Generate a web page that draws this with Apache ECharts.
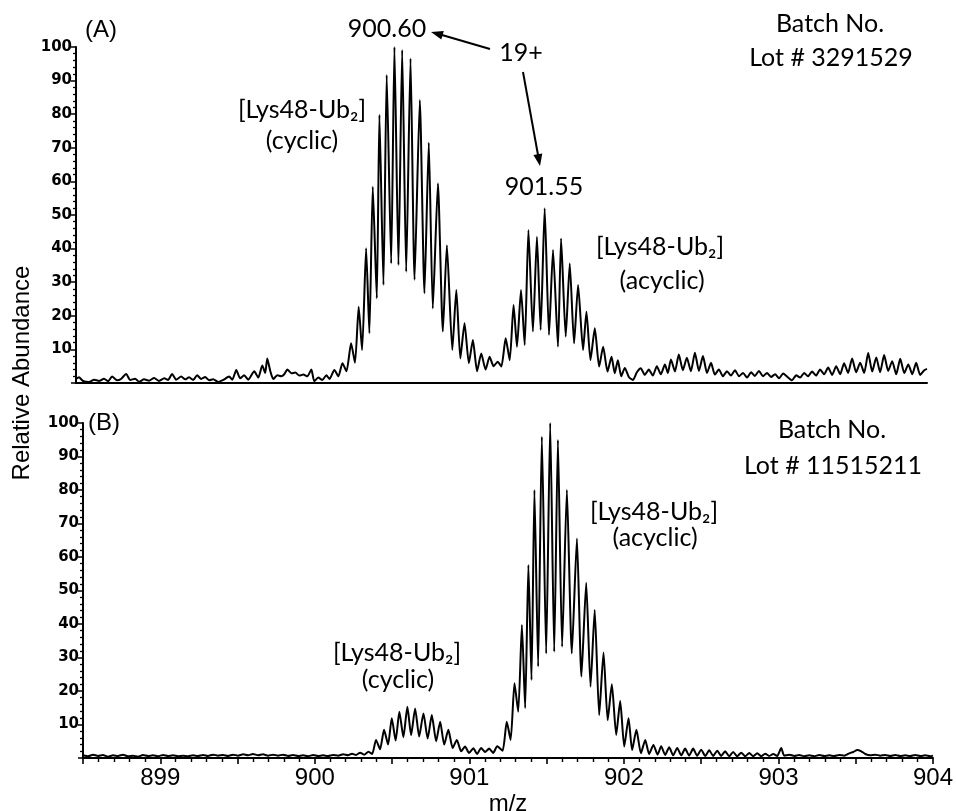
<!DOCTYPE html>
<html>
<head>
<meta charset="utf-8">
<title>Lys48-Ub2 19+ spectra</title>
<script src="https://cdn.jsdelivr.net/npm/echarts@6/dist/echarts.min.js"></script>
<style>
  html, body { margin: 0; padding: 0; background: #fff; }
  #chart { width: 956px; height: 811px; }
</style>
</head>
<body>
<div id="chart"></div>
<script>
// Panel (A): Batch Lot # 3291529 — profile trace, m/z and relative abundance
const mzA = [
  898.500, 898.519, 898.545, 898.584, 898.617, 898.649, 898.681, 898.707, 898.733, 898.765,
  898.791, 898.824, 898.850, 898.882, 898.908, 898.940, 898.972, 899.005, 899.037, 899.070,
  899.095, 899.121, 899.147, 899.180, 899.206, 899.231, 899.257, 899.283, 899.309, 899.335,
  899.361, 899.387, 899.419, 899.451, 899.490, 899.510, 899.536, 899.561, 899.587, 899.613,
  899.652, 899.678, 899.704, 899.723, 899.736, 899.756, 899.775, 899.801, 899.827, 899.846,
  899.866, 899.892, 899.918, 899.943, 899.969, 899.995, 900.021, 900.040, 900.066, 900.092,
  900.118, 900.138, 900.170, 900.196, 900.222, 900.248, 900.278, 900.303, 900.327, 900.349,
  900.375, 900.396, 900.418, 900.444, 900.461, 900.487, 900.508, 900.537, 900.558, 900.584,
  900.608, 900.634, 900.662, 900.688, 900.722, 900.752, 900.780, 900.806, 900.839, 900.871,
  900.897, 900.932, 900.958, 900.984, 901.011, 901.039, 901.065, 901.092, 901.119, 901.147,
  901.173, 901.199, 901.225, 901.249, 901.277, 901.303, 901.328, 901.350, 901.376, 901.400,
  901.424, 901.453, 901.479, 901.503, 901.529, 901.557, 901.583, 901.615, 901.635, 901.665,
  901.691, 901.719, 901.745, 901.777, 901.799, 901.825, 901.853, 901.881, 901.907, 901.935,
  901.961, 901.982, 902.002, 902.024, 902.047, 902.073, 902.099, 902.125, 902.150, 902.176,
  902.202, 902.228, 902.254, 902.280, 902.306, 902.325, 902.345, 902.371, 902.396, 902.422,
  902.448, 902.474, 902.500, 902.526, 902.552, 902.578, 902.604, 902.629, 902.655, 902.681,
  902.707, 902.733, 902.759, 902.785, 902.811, 902.837, 902.863, 902.888, 902.914, 902.940,
  902.966, 902.992, 903.018, 903.044, 903.070, 903.096, 903.128, 903.154, 903.180, 903.206,
  903.231, 903.257, 903.283, 903.309, 903.335, 903.361, 903.387, 903.413, 903.439, 903.464,
  903.490, 903.516, 903.542, 903.568, 903.594, 903.620, 903.646, 903.672, 903.697, 903.723,
  903.749, 903.775, 903.801, 903.827, 903.853, 903.879, 903.905, 903.930, 903.956, 903.982,
  904.000
];
const intA = [
  1.2, 1.7, 0.6, 0.3, 1.0, 0.6, 1.3, 0.5, 1.9, 0.8,
  1.2, 2.7, 0.9, 1.3, 0.4, 1.1, 0.7, 1.5, 0.6, 1.4,
  0.9, 2.7, 1.0, 1.9, 1.1, 1.7, 0.9, 2.3, 1.2, 1.8,
  0.8, 1.1, 0.3, 0.9, 1.9, 1.0, 3.9, 1.4, 2.3, 1.0,
  3.5, 1.6, 5.2, 3.0, 7.3, 3.5, 1.2, 2.3, 2.0, 2.6,
  4.0, 2.9, 3.1, 2.2, 2.5, 2.0, 4.0, 0.5, 1.6, 0.9,
  2.3, 1.2, 3.9, 2.0, 5.9, 3.5, 11.8, 6.0, 22.7, 9.8,
  40.1, 14.8, 58.4, 25.2, 79.8, 29.2, 91.7, 35.6, 100, 35.1,
  99.1, 33.1, 96.6, 30.7, 84.2, 26.7, 71.5, 22.2, 59.4, 15.3,
  41.0, 9.8, 27.7, 7.3, 17.8, 5.9, 12.8, 3.5, 8.8, 4.0,
  7.8, 5.0, 6.3, 4.9, 13.3, 6.8, 23.2, 10.8, 27.7, 11.3,
  45.5, 15.3, 43.5, 15.8, 52.0, 14.3, 39.6, 10.8, 43.0, 13.8,
  35.6, 11.8, 29.2, 9.8, 21.2, 6.8, 16.3, 4.9, 10.8, 3.4,
  7.8, 2.9, 6.8, 2.0, 4.5, 1.8, 0.9, 3.2, 4.4, 2.4,
  4.0, 2.2, 5.0, 2.6, 5.5, 3.0, 7.0, 3.4, 8.5, 3.8,
  7.5, 3.5, 9.0, 3.6, 8.0, 3.0, 6.0, 2.5, 4.0, 2.0,
  3.5, 2.2, 3.8, 2.0, 3.0, 1.6, 3.2, 2.1, 3.6, 2.0,
  3.0, 1.8, 2.6, 1.4, 2.8, 1.9, 0.8, 2.3, 1.6, 3.0,
  2.0, 3.4, 2.2, 4.0, 2.6, 4.6, 2.4, 5.0, 2.6, 5.9,
  3.0, 7.3, 3.2, 6.0, 3.0, 8.9, 3.4, 7.6, 3.2, 8.3,
  3.6, 6.5, 2.6, 7.2, 3.0, 5.5, 2.6, 6.0, 2.4, 3.8,
  4.2
];

// Panel (B): Batch Lot # 11515211
const mzB = [
  898.500, 898.532, 898.565, 898.597, 898.629, 898.662, 898.694, 898.727, 898.759, 898.791,
  898.824, 898.856, 898.888, 898.921, 898.953, 898.985, 899.018, 899.050, 899.083, 899.115,
  899.147, 899.180, 899.212, 899.244, 899.277, 899.309, 899.341, 899.374, 899.406, 899.439,
  899.471, 899.503, 899.536, 899.568, 899.600, 899.633, 899.665, 899.697, 899.730, 899.762,
  899.795, 899.827, 899.859, 899.892, 899.924, 899.956, 899.989, 900.021, 900.053, 900.086,
  900.118, 900.151, 900.183, 900.215, 900.241, 900.267, 900.293, 900.319, 900.347, 900.371,
  900.396, 900.422, 900.448, 900.474, 900.498, 900.523, 900.547, 900.573, 900.599, 900.623,
  900.649, 900.675, 900.703, 900.730, 900.757, 900.785, 900.811, 900.837, 900.864, 900.892,
  900.919, 900.947, 900.972, 900.998, 901.026, 901.050, 901.076, 901.102, 901.128, 901.154,
  901.180, 901.215, 901.242, 901.267, 901.292, 901.316, 901.340, 901.361, 901.382, 901.402,
  901.421, 901.445, 901.469, 901.497, 901.523, 901.549, 901.573, 901.600, 901.631, 901.663,
  901.696, 901.725, 901.756, 901.784, 901.811, 901.840, 901.868, 901.895, 901.922, 901.950,
  901.976, 902.002, 902.030, 902.053, 902.081, 902.110, 902.138, 902.163, 902.191, 902.218,
  902.241, 902.267, 902.293, 902.319, 902.345, 902.371, 902.396, 902.422, 902.448, 902.474,
  902.500, 902.526, 902.552, 902.578, 902.604, 902.629, 902.655, 902.681, 902.707, 902.733,
  902.759, 902.785, 902.811, 902.837, 902.863, 902.888, 902.914, 902.940, 902.966, 902.992,
  903.018, 903.037, 903.070, 903.102, 903.134, 903.167, 903.199, 903.231, 903.264, 903.296,
  903.329, 903.361, 903.393, 903.426, 903.458, 903.484, 903.510, 903.536, 903.562, 903.594,
  903.626, 903.659, 903.691, 903.723, 903.756, 903.788, 903.820, 903.853, 903.885, 903.918,
  903.950, 903.982, 904.000
];
const intB = [
  0.8, 0.5, 1.0, 0.6, 0.9, 0.4, 0.8, 0.6, 1.0, 0.5,
  0.7, 0.4, 0.9, 0.6, 0.8, 0.5, 0.9, 0.6, 0.8, 0.5,
  0.7, 0.5, 0.8, 0.6, 0.9, 0.6, 1.0, 0.7, 0.9, 0.6,
  1.0, 0.7, 1.1, 0.8, 1.2, 0.8, 1.1, 0.7, 1.0, 0.7,
  1.0, 0.6, 0.9, 0.6, 0.8, 0.5, 0.9, 0.6, 0.8, 0.6,
  0.9, 0.7, 1.1, 0.8, 1.3, 0.9, 1.6, 1.0, 1.9, 1.2,
  5.4, 2.6, 8.4, 4.0, 11.9, 5.2, 13.8, 6.2, 15.3, 6.8,
  14.8, 6.4, 13.3, 5.8, 12.8, 5.0, 10.8, 4.0, 8.4, 3.0,
  5.4, 2.0, 3.4, 1.5, 2.9, 1.2, 3.0, 1.8, 2.8, 1.5,
  3.5, 2.2, 10.8, 5.4, 22.3, 13.8, 39.7, 14.9, 57.6, 23.3,
  80.0, 27.3, 95.9, 31.2, 100, 31.7, 94.9, 33.2, 80.0, 31.2,
  65.5, 24.3, 52.3, 21.3, 44.2, 12.8, 31.5, 11.3, 22.0, 6.9,
  17.0, 3.4, 11.9, 2.4, 8.4, 1.4, 5.4, 1.2, 3.9, 1.0,
  3.5, 0.9, 3.2, 0.8, 3.0, 0.8, 2.8, 0.7, 2.8, 0.7,
  2.5, 0.6, 2.3, 0.6, 2.2, 0.6, 2.0, 0.5, 1.8, 0.5,
  1.6, 0.5, 1.5, 0.5, 1.4, 0.5, 1.3, 0.6, 1.2, 0.6,
  3.0, 0.7, 1.0, 0.6, 0.9, 0.5, 0.8, 0.5, 0.9, 0.6,
  0.8, 0.6, 0.9, 0.7, 1.4, 1.8, 2.4, 2.0, 1.2, 0.8,
  1.0, 0.7, 0.9, 0.6, 0.9, 0.6, 0.8, 0.6, 0.9, 0.6,
  0.8, 0.5, 0.7
];

// Labelled m/z positions on the lower axis
const xMajorTicks = [899, 900, 901, 902, 903, 904];

const dataA = mzA.map((m, i) => [m, intA[i]]);
const dataB = mzB.map((m, i) => [m, intB[i]]);

const ANNOT_FONT = 'Lato, "Open Sans", sans-serif';
const AXIS_FONT = '"Liberation Sans", Arial, sans-serif';

const chart = echarts.init(document.getElementById('chart'), null, { renderer: 'canvas' });

function yAxisFor(gridIndex) {
  return {
    type: 'value', gridIndex, min: 0, max: 100, interval: 10,
    axisLine: { show: true, lineStyle: { color: '#000', width: 2 } },
    axisTick: { show: true, length: 5, lineStyle: { color: '#000', width: 1.5 } },
    minorTick: { show: true, splitNumber: 5, length: 3, lineStyle: { color: '#000', width: 1.3 } },
    splitLine: { show: false },
    minorSplitLine: { show: false },
    axisLabel: {
      show: true, margin: 4, color: '#000',
      fontFamily: '"DejaVu Sans", sans-serif', fontWeight: 'bold', fontSize: 15,
      formatter: v => (v === 0 ? '' : String(v))
    }
  };
}

function textEl(text, x, y, size, font, weight) {
  return {
    type: 'text', x, y, silent: true,
    style: {
      text, fill: '#000', font: (weight || 'normal') + ' ' + size + 'px ' + font,
      textAlign: 'center', textVerticalAlign: 'middle'
    }
  };
}

const option = {
  animation: false,
  backgroundColor: '#fff',
  grid: [
    { left: 76, right: 29, top: 47, height: 336, outerBoundsMode: 'none', containLabel: false },
    { left: 83, right: 23, top: 423, height: 335, outerBoundsMode: 'none', containLabel: false }
  ],
  xAxis: [
    {
      type: 'value', gridIndex: 0, position: 'bottom', min: 898.5, max: 904,
      axisLine: { show: true, onZero: false, lineStyle: { color: '#000', width: 2 } },
      axisTick: { show: false }, axisLabel: { show: false }, splitLine: { show: false }
    },
    {
      // 0.5 spacing drives the 0.1 minor ticks; labels sit on whole m/z values
      type: 'value', gridIndex: 1, position: 'bottom', min: 898.5, max: 904, interval: 0.5,
      name: 'm/z', nameLocation: 'middle', nameGap: 34,
      nameTextStyle: { color: '#000', fontFamily: AXIS_FONT, fontSize: 24 },
      axisLine: { show: true, onZero: false, lineStyle: { color: '#000', width: 2 } },
      axisTick: { show: true, length: 6, lineStyle: { color: '#000', width: 1.6 } },
      minorTick: { show: true, splitNumber: 5, length: 4, lineStyle: { color: '#000', width: 1.4 } },
      axisLabel: {
        show: true, customValues: xMajorTicks, margin: 8, color: '#000',
        fontFamily: AXIS_FONT, fontSize: 24
      },
      splitLine: { show: false },
      minorSplitLine: { show: false }
    }
  ],
  yAxis: [yAxisFor(0), yAxisFor(1)],
  series: [
    {
      type: 'line', xAxisIndex: 0, yAxisIndex: 0, data: dataA,
      showSymbol: false, smooth: 0.2, silent: true,
      lineStyle: { color: '#000', width: 2 }
    },
    {
      type: 'line', xAxisIndex: 1, yAxisIndex: 1, data: dataB,
      showSymbol: false, smooth: 0.2, silent: true,
      lineStyle: { color: '#000', width: 2 }
    }
  ],
  graphic: [
    // axis title shared by both panels
    {
      type: 'text', x: 22, y: 373, rotation: Math.PI / 2, silent: true,
      style: {
        text: 'Relative Abundance', fill: '#000', font: '24px ' + AXIS_FONT,
        textAlign: 'center', textVerticalAlign: 'middle'
      }
    },
    textEl('(A)', 101, 30, 24, AXIS_FONT),
    textEl('(B)', 104, 423, 24, AXIS_FONT),

    // panel A annotations
    textEl('900.60', 387, 29, 25, ANNOT_FONT),
    textEl('19+', 521, 53, 25, ANNOT_FONT),
    textEl('901.55', 544, 187, 25, ANNOT_FONT),
    textEl('Batch No.', 830, 24, 25, ANNOT_FONT),
    textEl('Lot # 3291529', 831, 58, 25, ANNOT_FONT),
    textEl('[Lys48-Ub\u2082]', 302, 110, 25, ANNOT_FONT),
    textEl('(cyclic)', 302, 141, 25, ANNOT_FONT),
    textEl('[Lys48-Ub\u2082]', 660, 247, 25, ANNOT_FONT),
    textEl('(acyclic)', 662, 281, 25, ANNOT_FONT),

    // arrows from the charge-state label to the two peaks
    { type: 'line', silent: true, shape: { x1: 490, y1: 49, x2: 442, y2: 35 }, style: { stroke: '#000', lineWidth: 2 } },
    { type: 'polygon', silent: true, shape: { points: [[431, 32], [443.8, 31.0], [441.3, 39.6]] }, style: { fill: '#000' } },
    { type: 'line', silent: true, shape: { x1: 523, y1: 72, x2: 538, y2: 155 }, style: { stroke: '#000', lineWidth: 2 } },
    { type: 'polygon', silent: true, shape: { points: [[540, 166], [542.3, 153.4], [533.4, 155.0]] }, style: { fill: '#000' } },

    // panel B annotations
    textEl('Batch No.', 832, 430, 25, ANNOT_FONT),
    textEl('Lot # 11515211', 833, 466, 25, ANNOT_FONT),
    textEl('[Lys48-Ub\u2082]', 654, 512, 25, ANNOT_FONT),
    textEl('(acyclic)', 655, 538, 25, ANNOT_FONT),
    textEl('[Lys48-Ub\u2082]', 397, 653, 25, ANNOT_FONT),
    textEl('(cyclic)', 398, 680, 25, ANNOT_FONT)
  ]
};

chart.setOption(option);
</script>
</body>
</html>
